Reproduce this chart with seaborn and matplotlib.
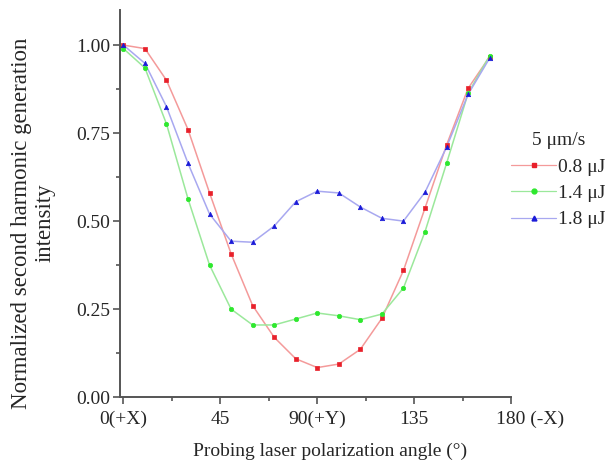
import seaborn as sns
import matplotlib.pyplot as plt
import pandas as pd
from matplotlib.lines import Line2D
from matplotlib.ticker import MultipleLocator
from matplotlib.transforms import ScaledTranslation

angles = [0, 10, 20, 30, 40, 50, 60, 70, 80, 90, 100, 110, 120, 130, 140, 150, 160, 170]
e08 = [1.00, 0.99, 0.90, 0.76, 0.58, 0.407, 0.26, 0.17, 0.109, 0.084, 0.094, 0.136, 0.224, 0.36, 0.537, 0.716, 0.877, 0.967]
e14 = [0.99, 0.935, 0.776, 0.563, 0.375, 0.25, 0.205, 0.205, 0.222, 0.239, 0.231, 0.22, 0.236, 0.31, 0.47, 0.664, 0.863, 0.97]
e18 = [1.00, 0.948, 0.825, 0.664, 0.52, 0.443, 0.44, 0.486, 0.555, 0.585, 0.58, 0.54, 0.508, 0.50, 0.582, 0.71, 0.86, 0.963]
series = ['0.8 μJ', '1.4 μJ', '1.8 μJ']
xtick_pos = [0, 45, 90, 135, 180]
xtick_lab = ['0(+X)', '45', '90(+Y)', '135', '180 (-X)']

line_cols = ['#f49a9a', '#9be89b', '#a8a8f0']
mark_cols = ['#e8202a', '#2ee82e', '#1a1ad8']
markers = ['s', 'o', '^']

df = pd.DataFrame({
    'angle': angles * 3,
    'val': e08 + e14 + e18,
    'series': [s for s in series for _ in angles],
})

sns.set_style('ticks')
plt.rcParams['font.family'] = ['Liberation Serif', 'DejaVu Serif']

fig = plt.figure(figsize=(6.1, 4.7), dpi=100)
ax = fig.add_axes([0.197, 0.155, 0.641, 0.824])

sns.lineplot(data=df, x='angle', y='val', hue='series', palette=line_cols,
             linewidth=1.1, legend=False, ax=ax)
for s, m, c in zip(series, markers, mark_cols):
    sns.scatterplot(data=df[df['series'] == s], x='angle', y='val', marker=m,
                    color=c, s=10, edgecolor=c, linewidth=0.5, legend=False, ax=ax, zorder=3)

ax.set_xlim(-1.5, 180)
ax.set_ylim(0, 1.1)
ax.set_xticks(xtick_pos)
ax.set_xticklabels(xtick_lab)
ax.xaxis.set_minor_locator(MultipleLocator(22.5))
ax.set_yticks([0, 0.25, 0.5, 0.75, 1.0])
ax.set_yticklabels(['0.00', '0.25', '0.50', '0.75', '1.00'])
ax.yaxis.set_minor_locator(MultipleLocator(0.125))
ax.tick_params(axis='both', which='major', labelsize=14, length=5, width=1.2,
               color='#555555')
ax.tick_params(axis='x', which='major', pad=5)
ax.tick_params(axis='y', which='major', pad=2)
ax.tick_params(axis='both', which='minor', length=3, width=1.2, color='#555555')
for sp in ['left', 'bottom']:
    ax.spines[sp].set_linewidth(1.4)
    ax.spines[sp].set_color('#555555')
sns.despine(ax=ax)

# "180" sits on its tick, "(-X)" hangs to the right
last = ax.get_xticklabels()[-1]
last.set_ha('left')
last.set_transform(last.get_transform() + ScaledTranslation(-0.15, 0, fig.dpi_scale_trans))

ax.set_xlabel('Probing laser polarization angle (°)', fontsize=14)
ax.xaxis.set_label_coords(0.537, -0.118)
ax.set_ylabel('Normalized second harmonic generation\nintensity', fontsize=16.5,
              linespacing=1.15)
ax.yaxis.set_label_coords(-0.165, 0.45)

handles = [Line2D([], [], color=lc, marker=m, markerfacecolor=mc, markeredgecolor=mc,
                  markersize=3.5, linewidth=0.9)
           for lc, mc, m in zip(line_cols, mark_cols, markers)]
leg = ax.legend(handles, series, title='5 μm/s', loc='center left',
                bbox_to_anchor=(1.0, 0.56), frameon=False, fontsize=14,
                title_fontsize=14, handlelength=2.3, handletextpad=0.1,
                labelspacing=0.45, borderaxespad=0, borderpad=0)

fig.savefig('out.png', dpi=100)
